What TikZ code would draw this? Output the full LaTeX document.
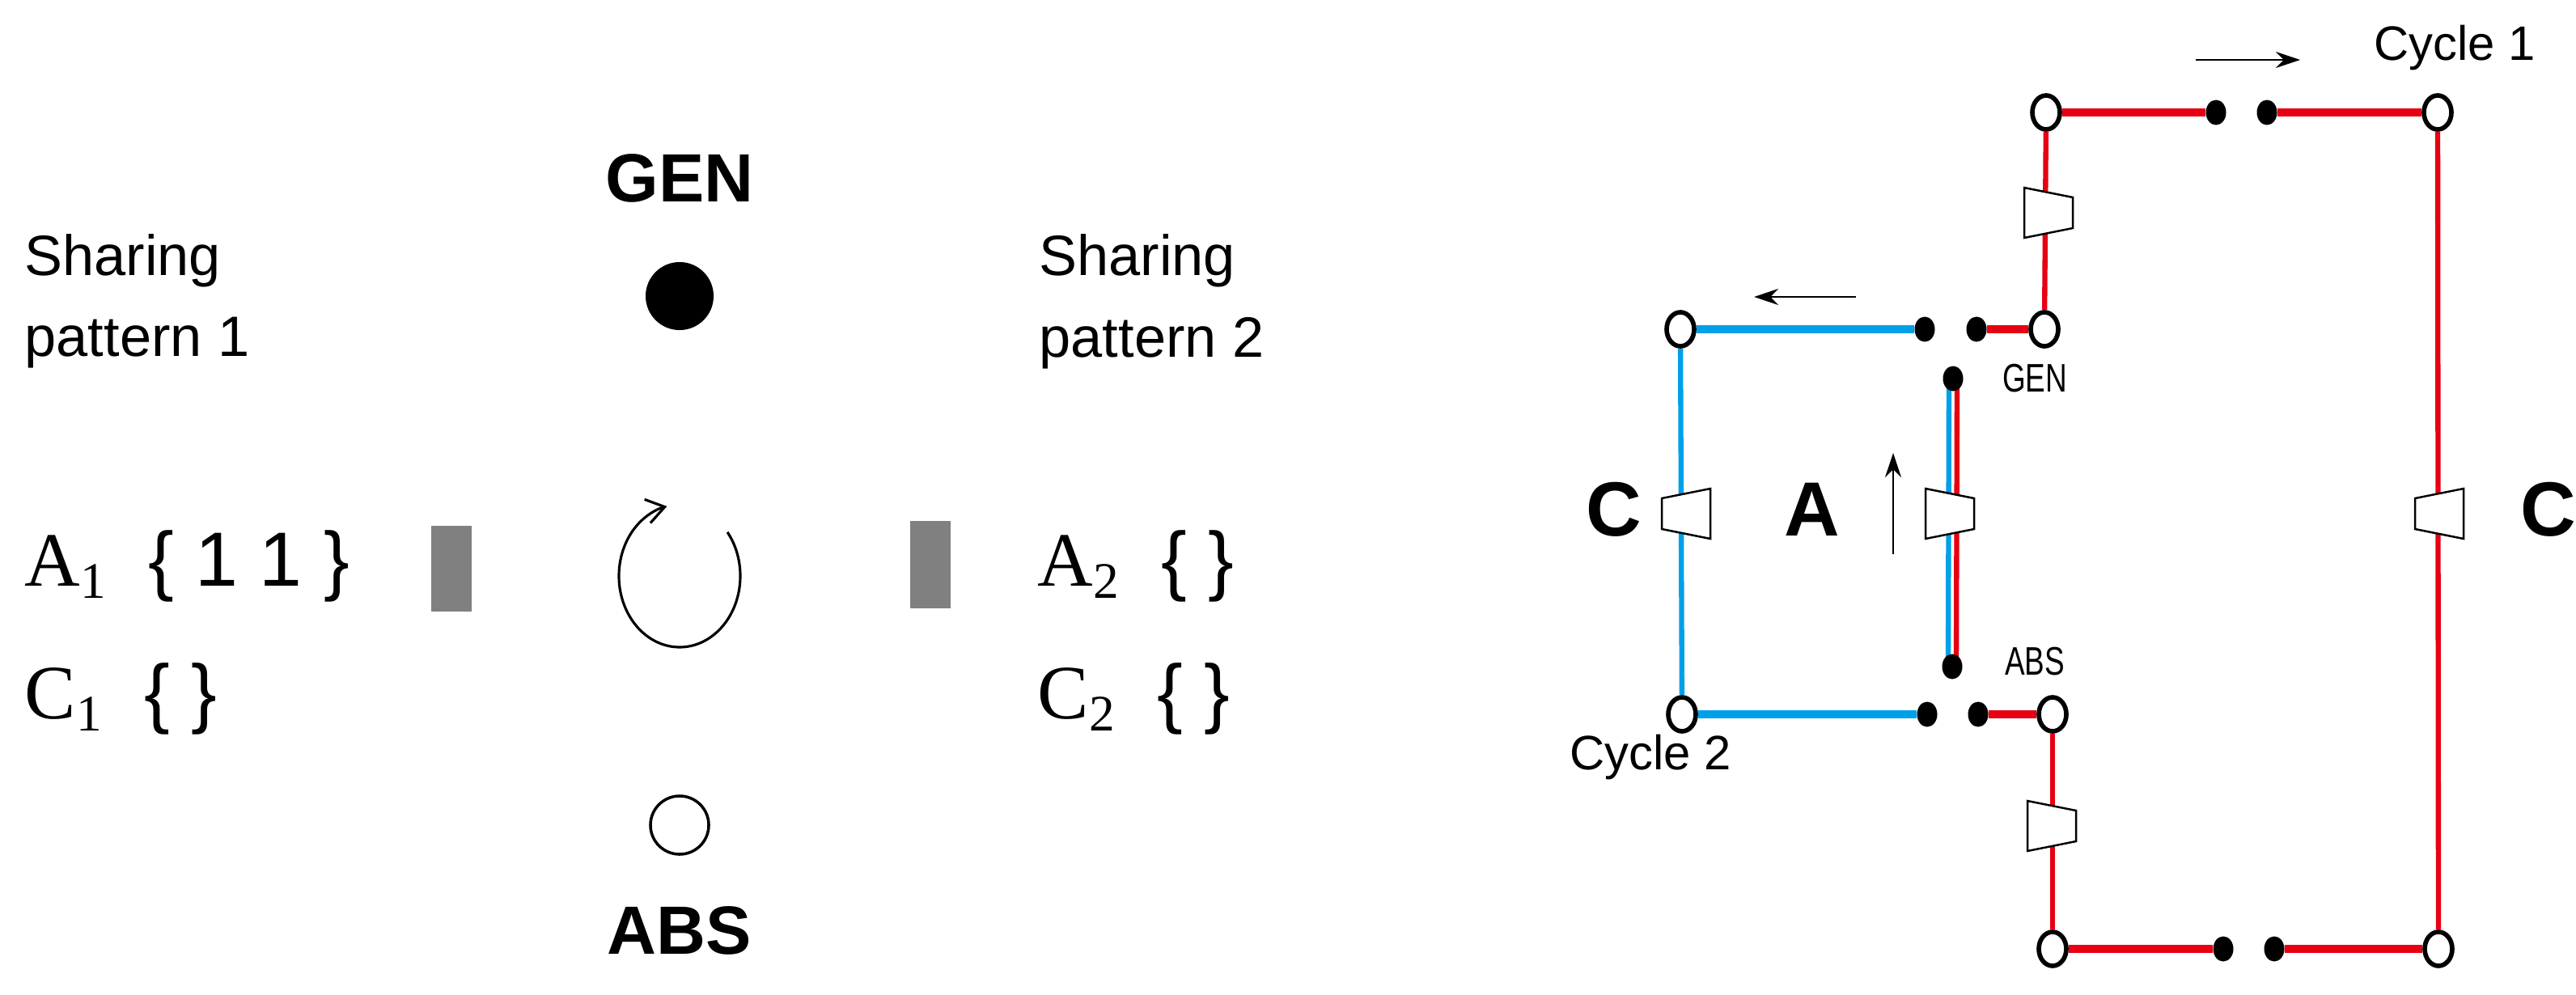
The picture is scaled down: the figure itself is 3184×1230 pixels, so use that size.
\documentclass[tikz,border=0pt]{standalone}
\usepackage{fontspec}
\setmainfont{Liberation Sans}
\newfontfamily\srf{Liberation Serif}
\usetikzlibrary{backgrounds,arrows.meta,shapes.geometric,calc}
\definecolor{cred}{RGB}{230,0,18}
\definecolor{cblue}{RGB}{0,160,233}
\definecolor{cgrey}{RGB}{128,128,128}
\newcommand\symb[2]{{\srf #1}\raisebox{-0.3ex}{\fontsize{18}{20}\selectfont\srf #2}}
\begin{document}
\begin{tikzpicture}[x=0.01cm,y=-0.01cm,
  oc/.style={ellipse,draw,line width=1.6pt,fill=white,minimum width=0.34cm,minimum height=0.42cm,inner sep=0},
  dot/.style={ellipse,fill=black,minimum width=0.25cm,minimum height=0.31cm,inner sep=0},
  rl/.style={cred,line width=3pt},
  rv/.style={cred,line width=1.8pt},
  bl/.style={cblue,line width=3pt},
  bv/.style={cblue,line width=1.8pt},
  trap/.pic={\draw[fill=white,line width=0.7pt] (-30,-31)--(30,-19)--(30,19)--(-30,31)--cycle;},
  txt/.style={inner sep=0,anchor=west,font=\fontsize{20}{24}\selectfont},
  mth/.style={inner sep=0,anchor=west,font=\fontsize{27}{30}\selectfont},
  big/.style={font=\fontsize{27}{30}\selectfont\bfseries},
  sm/.style={font=\fontsize{14}{16}\selectfont},
  ar/.style={-{Stealth[length=0.3cm,width=0.2cm]},line width=0.7pt}]
\useasboundingbox (0,0) rectangle (3184,1230);
% ---- left panel ----
\node[txt] (sp1a) at (30,322) {Sharing};
\node[txt] (sp1b) at (30,424) {pattern 1};
\node[mth] (a1) at (30,700) {\symb{A}{1}\ \ \{ 1 1 \}};
\node[mth] (c1) at (30,864) {\symb{C}{1}\ \ \{ \}};
\node[fill=cgrey,minimum width=0.5cm,minimum height=1.06cm,inner sep=0] (r1) at (558,703) {};
\node[font=\fontsize{24}{28}\selectfont\bfseries] (gen) at (840,220) {GEN};
\node[circle,fill=black,minimum size=0.84cm,inner sep=0] (gd) at (840,366) {};
\coordinate (cc) at (840,712);
\draw[line width=0.9pt,-{Straight Barb[length=0.22cm,width=0.3cm]}] ($(cc)+({75*cos(-38)},{88*sin(-38)})$) arc (-38:258:75 and 88);
\node[draw,line width=1pt,circle,minimum size=0.72cm,inner sep=0] (go) at (840,1020) {};
\node[font=\fontsize{24}{28}\selectfont\bfseries] (abs) at (840,1150) {ABS};
\node[fill=cgrey,minimum width=0.5cm,minimum height=1.08cm,inner sep=0] (r2) at (1150,698) {};
\node[txt] (sp2a) at (1284,322) {Sharing};
\node[txt] (sp2b) at (1284,424) {pattern 2};
\node[mth] (a2) at (1282,700) {\symb{A}{2}\ \ \{ \}};
\node[mth] (c2) at (1282,864) {\symb{C}{2}\ \ \{ \}};
% ---- right panel ----
\node[oc] (t1) at (2529,139) {};
\node[oc] (t2) at (3013,139) {};
\node[dot] (td1) at (2739,139) {};
\node[dot] (td2) at (2802,139) {};
\node[oc] (g) at (2527,407) {};
\node[dot] (gd1) at (2379,407) {};
\node[dot] (gd2) at (2443,407) {};
\node[oc] (l1) at (2077,407) {};
\node[dot] (vd1) at (2414,468) {};
\node[dot] (vd2) at (2413,824) {};
\node[oc] (l2) at (2079,883) {};
\node[dot] (ad1) at (2382,883) {};
\node[dot] (ad2) at (2445,883) {};
\node[oc] (a) at (2537,883) {};
\node[oc] (b1) at (2537,1173) {};
\node[dot] (bd1) at (2748,1173) {};
\node[dot] (bd2) at (2811,1173) {};
\node[oc] (b2) at (3014,1173) {};
\begin{scope}[on background layer]
\draw[rl] (t1) -- (td1); \draw[rl] (td2) -- (t2);
\draw[rv] (t1) -- (g);
\draw[rv] (t2) -- (b2);
\draw[rl] (gd2) -- (g);
\draw[bl] (l1) -- (gd1);
\draw[bv] (l1) -- (l2);
\draw[bl] (l2) -- (ad1);
\draw[rl] (ad2) -- (a);
\draw[rv] (a) -- (b1);
\draw[rl] (b1) -- (bd1); \draw[rl] (bd2) -- (b2);
\draw[bv] ([xshift=-0.05cm]vd1.center) -- ([xshift=-0.05cm]vd2.center);
\draw[rv] ([xshift=0.05cm]vd1.center) -- ([xshift=0.05cm]vd2.center);
\end{scope}
\pic at (2532,263) {trap};
\pic at (2536,1021) {trap};
\pic[xscale=-1] at (2084,635) {trap};
\pic at (2410,635) {trap};
\pic[xscale=-1] at (3015,635) {trap};
\node[font=\fontsize{17}{20}\selectfont] (cy1) at (3034,59) {Cycle 1};
\node[font=\fontsize{17}{20}\selectfont] (cy2) at (2040,936) {Cycle 2};
\node[sm,xscale=0.75] (gl) at (2515,468) {GEN};
\node[sm,xscale=0.75] (al) at (2515,818) {ABS};
\node[big] (cl) at (1995,630) {C};
\node[big] (cr) at (3150,630) {C};
\node[big] (al2) at (2240,630) {A};
\coordinate (ar1s) at (2714,74); \coordinate (ar1e) at (2843,74);
\coordinate (ar2s) at (2294,367); \coordinate (ar2e) at (2168,367);
\coordinate (ar3s) at (2340,685); \coordinate (ar3e) at (2340,560);
\draw[ar] (ar1s) -- (ar1e);
\draw[ar] (ar2s) -- (ar2e);
\draw[ar] (ar3s) -- (ar3e);
\end{tikzpicture}
\end{document}
